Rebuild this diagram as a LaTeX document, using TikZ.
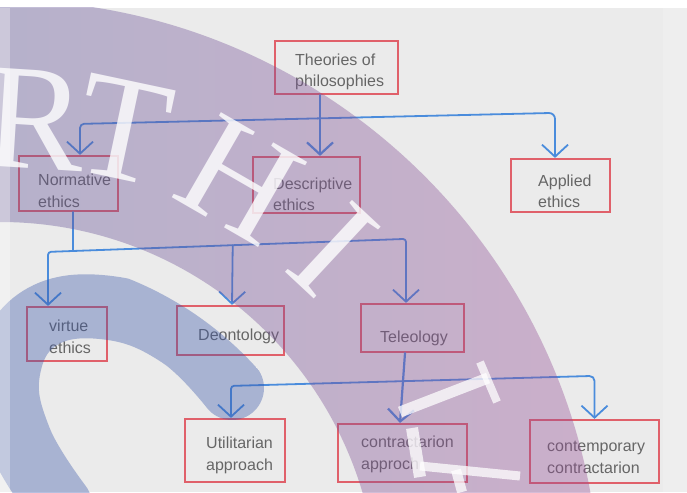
\documentclass[tikz,border=0pt]{standalone}
\usepackage{fontspec}
\setmainfont{Liberation Sans}
\newfontfamily\wmfont{Liberation Serif}
\usetikzlibrary{arrows.meta,calc}
\definecolor{bg}{HTML}{EBEBEB}
\definecolor{bgR}{HTML}{EEEEEE}
\definecolor{boxred}{HTML}{E0606A}
\definecolor{txtgray}{HTML}{666666}
\definecolor{linkblue}{HTML}{4A8CDC}
\definecolor{wmL}{RGB}{40,92,152}
\definecolor{wmR}{RGB}{152,78,150}
\definecolor{wmC}{RGB}{60,88,170}
\begin{document}
\begin{tikzpicture}[x=1pt,y=-1pt,
  box/.style={draw=boxred, line width=2.2pt, inner sep=0pt},
  txt/.style={text=txtgray, font=\fontsize{16}{21.5}\selectfont, align=left, anchor=west, inner sep=0pt},
  link/.style={draw=linkblue, line width=1.8pt, line cap=round, line join=round},
  arr/.style={link, -{Straight Barb[length=12pt,width=26pt]}},
  wm/.style={text=white, text opacity=0.8, font=\wmfont\fontsize{150}{150}\selectfont, inner sep=0pt},
  wmbar/.style={draw=white, draw opacity=0.75, line cap=butt}]
\useasboundingbox (0,0) rectangle (687,492);
\clip (0,0) rectangle (687,492);
% background
\fill[white] (0,0) rectangle (687,492);
\fill[bg] (0,8) rectangle (687,492);
\fill[bgR] (663,8) rectangle (687,492);
% boxes
\node[box, minimum width=123pt, minimum height=53pt] (T) at (336.5,67.5) {};
\node[box, minimum width=99pt, minimum height=55pt] (N) at (68.5,183.5) {};
\node[box, minimum width=107pt, minimum height=56pt] (D) at (306.5,185) {};
\node[box, minimum width=99pt, minimum height=53pt] (A) at (560.5,185.5) {};
\node[box, minimum width=80pt, minimum height=54pt] (V) at (67,334) {};
\node[box, minimum width=107pt, minimum height=49pt] (De) at (230.5,330.5) {};
\node[box, minimum width=103pt, minimum height=48pt] (Te) at (412.5,328) {};
\node[box, minimum width=100pt, minimum height=63pt] (U) at (235,450.5) {};
\node[box, minimum width=129pt, minimum height=58pt] (C) at (402.5,453) {};
\node[box, minimum width=129pt, minimum height=63pt] (Co) at (594.5,451.5) {};
% texts
\node[txt] (tT) at (295,72) {Theories of\\philosophies};
\node[txt] (tN) at (38,191) {Normative\\ethics};
\node[txt] (tD) at (273,194.5) {Descriptive\\ethics};
\node[txt] (tA) at (538,191.5) {Applied\\ethics};
\node[txt] (tV) at (49,337) {virtue\\ethics};
\node[txt] (tDe) at (198,336) {Deontology};
\node[txt] (tTe) at (380,338) {Teleology};
\node[txt] (tU) at (206,455.5) {Utilitarian\\approach};
\node[txt] (tC) at (361,454.5) {contractarion\\approch};
\node[txt] (tCo) at (547,457.5) {contemporary\\contractarion};
% level 1 connectors
\coordinate (dTop) at ($(D.north)+(13.5,0)$);
\coordinate (nTop) at ($(N.north)+(11.5,0)$);
\coordinate (aTop) at ($(A.north)+(-5.5,0)$);
\coordinate (j1L) at ($(nTop)+(0,-31)$);
\coordinate (j1R) at ($(aTop)+(0,-45)$);
\draw[arr, line width=2.2pt] (T.south -| dTop) -- (dTop);
\draw[arr, rounded corners=4pt] ($(j1L)!0.5!(j1R)$) -- (j1L) -- (nTop);
\draw[arr, rounded corners=6pt] ($(j1L)!0.5!(j1R)$) -- (j1R) -- (aTop);
% level 2 connectors
\coordinate (nBot) at ($(N.south)+(4.5,0)$);
\coordinate (vTop) at ($(V.north)+(-19,0)$);
\coordinate (deTop) at ($(De.north)+(1.5,0)$);
\coordinate (teTop) at ($(Te.north)+(-6.5,0)$);
\coordinate (j2L) at ($(vTop)+(0,-54)$);
\coordinate (j2R) at ($(teTop)+(0,-64)$);
\coordinate (j2N) at ($(j2L)!0.07!(j2R)$);
\coordinate (j2D) at ($(j2L)!0.516!(j2R)$);
\draw[link] (nBot) -- (j2N);
\draw[arr, rounded corners=3pt] (j2N) -- (j2L) -- (vTop);
\draw[arr] (j2D) -- (deTop);
\draw[arr, rounded corners=3pt] (j2N) -- (j2R) -- (teTop);
% level 3 connectors
\coordinate (teBot) at ($(Te.south)+(-7.5,0)$);
\coordinate (cTop) at ($(C.north)+(-2.5,0)$);
\coordinate (uTop) at ($(U.north)+(-4,0)$);
\coordinate (coTop) at (Co.north);
\coordinate (j3L) at ($(uTop)+(0,-32)$);
\coordinate (j3R) at ($(coTop)+(0,-43)$);
\draw[arr, line width=2.2pt] (teBot) -- (cTop);
\draw[arr, rounded corners=3pt] ($(j3L)!0.5!(j3R)$) -- (j3L) -- (uTop);
\draw[arr, rounded corners=5pt] ($(j3L)!0.5!(j3R)$) -- (j3R) -- (coTop);
% watermark overlay
\begin{scope}
  \clip (0,8) rectangle (687,492);
  \shade[left color=wmL, right color=wmR, fill opacity=0.38, even odd rule]
    (0,600) circle[radius=600pt] (0,600) circle[radius=378pt];
  \begin{scope}
    \clip (0,600) circle[radius=346pt];
    \draw[wmC, line width=64pt, line cap=round, draw opacity=0.38]
      plot[smooth, tension=0.7] coordinates {(232,388) (180,336) (110,308) (40,318) (8,372) (20,440) (60,505)};
  \end{scope}
  \node[wm, rotate=-3.6] (wR) at (36,120) {R};
  \node[wm, rotate=-12] (wT) at (124,130) {T};
  \node[wm, rotate=-30] (wH) at (240,180) {H};
  \node[wm, rotate=-43] (wI) at (333,250) {I};
  % fragments of the next watermark letter
  \draw[wmbar, line width=11pt] (400,412) -- (488,378);
  \draw[wmbar, line width=8pt] (480,362) -- (497,402);
  \draw[wmbar, line width=12pt] (412,428) -- (420,477);
  \draw[wmbar, line width=9pt] (420,466) -- (520,476);
  \draw[wmbar, line width=10pt] (456,470) -- (462,492);
  \fill[white, fill opacity=0.3] (0,8) rectangle (10,492);
\end{scope}
\end{tikzpicture}
\end{document}
